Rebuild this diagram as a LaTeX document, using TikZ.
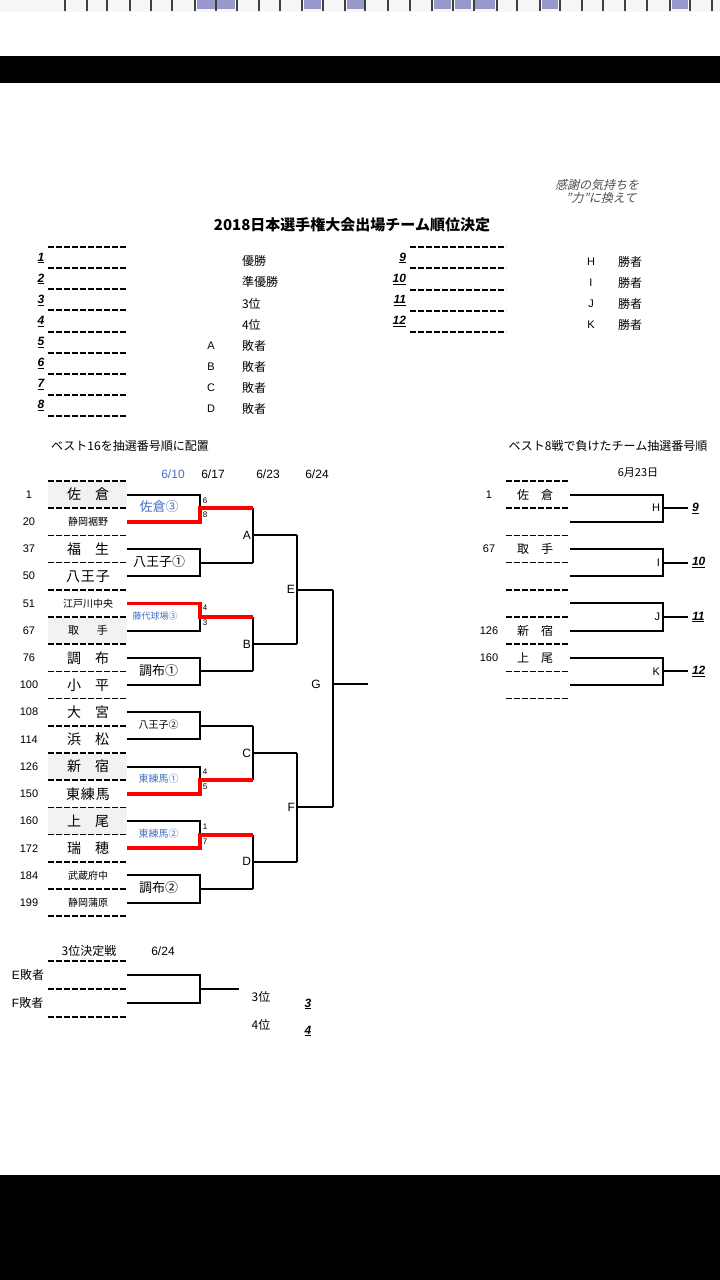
\documentclass[tikz,border=0pt]{standalone}
\usepackage{fontspec}
\setmainfont{Noto Sans CJK JP}
\newfontfamily\ar{Liberation Sans}
\newfontfamily\jpit{Noto Sans CJK JP}[FakeSlant=0.25]
\newcommand\fsz[1]{\fontsize{#1pt}{#1pt}\selectfont}
\newcommand\rk[1]{\underline{\ar\bfseries\itshape #1}}
\definecolor{bl}{RGB}{68,114,196}
\definecolor{cellgray}{RGB}{242,242,242}
\tikzset{
  dl/.style={line width=1.7pt, dash pattern=on 6pt off 2pt},
  br/.style={line width=2pt, line join=miter},
  rl/.style={line width=3.8pt, draw=red, line join=miter},
  tx/.style={inner sep=0pt, outer sep=0pt},
  teamno/.style={tx, font=\ar\fsz{11}},
  pairlbl/.style={tx},
  letter/.style={tx, font=\ar\fsz{12}},
  small/.style={tx, font=\ar\fsz{8}},
}
\begin{document}
\begin{tikzpicture}[x=1pt,y=-1pt]
\useasboundingbox (0,0) rectangle (720,1280);
\fill[white] (0,0) rectangle (720,1280);
% top strip
\fill[gray!7] (0,0) rectangle (720,12);
\foreach \xa/\xb in {197/215,217/235,304/321,347/364,434/451,455/471,475/495,542/558,672/688}
  \fill[blue!35!gray!60] (\xa,0) rectangle (\xb,9);
\foreach \x in {65,87,107,130,151,172,195,216,237,259,280,302,323,345,365,388,410,432,453,474,497,517,540,560,582,603,625,647,670,690,712}
  \fill[black!75] (\x-1,0) rectangle (\x+1,11);
% black bars
\fill[black] (0,56) rectangle (720,83);
\fill[black] (0,1175) rectangle (720,1280);

% title
\node[tx] (title) at (352,225) {\bfseries\fsz{15}2018日本選手権大会出場チーム順位決定};
\node[tx,text=black!70] (motto1) at (597,185) {\jpit\fsz{12}感謝の気持ちを};
\node[tx,text=black!70] (motto2) at (601,198) {\jpit\fsz{12}”力”に換えて};

% ranking list left
\foreach \yy in {247,268,289,310,332,353,374,395,416}
  \draw[dl] (48,\yy) -- (127,\yy);
\foreach \n [count=\i from 0] in {1,...,8} {
  \pgfmathsetmacro\yy{258+21.1*\i}
  \node[tx,font=\fsz{12}] (rk\n) at (41,\yy) {\rk{\n}};
}
\foreach \s/\yy [count=\i] in {優勝/261,準優勝/282,3位/304,4位/325}
  \node[tx,anchor=west,font=\fsz{12}] (pl\i) at (242,\yy) {\s};
\foreach \l/\yy in {A/346,B/367,C/388,D/409} {
  \node[tx,font=\ar\fsz{11}] (ll\l) at (211,\yy) {\l};
  \node[tx,anchor=west,font=\fsz{12}] (lb\l) at (242,\yy) {敗者};
}
% ranking list right
\foreach \yy in {247,268,290,311,332}
  \draw[dl] (410,\yy) -- (506,\yy);
\foreach \n [count=\i from 0] in {9,...,12} {
  \pgfmathsetmacro\yy{258+21.1*\i}
  \node[tx,anchor=east,font=\fsz{12}] (rk\n) at (406,\yy) {\rk{\n}};
}
\foreach \l/\yy in {H/262,I/283,J/304,K/325} {
  \node[tx,font=\ar\fsz{11}] (rl\l) at (591,\yy) {\l};
  \node[tx,font=\fsz{12}] (rw\l) at (630,\yy) {勝者};
}

% headings
\node[tx,font=\fsz{12}] (h16) at (130,446) {ベスト16を抽選番号順に配置};
\node[tx,font=\fsz{12}] (h8) at (608,446) {ベスト8戦で負けたチーム抽選番号順};
\node[tx,text=bl,font=\ar\fsz{12}] (d1) at (173,474) {6/10};
\node[tx,font=\ar\fsz{12}] (d2) at (213,474) {6/17};
\node[tx,font=\ar\fsz{12}] (d3) at (268,474) {6/23};
\node[tx,font=\ar\fsz{12}] (d4) at (317,474) {6/24};

% left bracket grid
\foreach \k in {0,5,10,12} {
  \pgfmathsetmacro\gy{481+27.2*\k}
  \fill[cellgray] (48,\gy) rectangle (127,\gy+27.2);
}
\foreach \k in {0,...,16} {
  \pgfmathsetmacro\gy{481+27.2*\k}
  \draw[dl] (48,\gy) -- (127,\gy);
}
\foreach \k in {0,...,15} {
  \pgfmathsetmacro\ry{494.6+27.2*\k}
  \coordinate (L\k) at (127,\ry);
}
\foreach \p in {0,...,7} {
  \pgfmathsetmacro\my{508.2+54.4*\p}
  \coordinate (J\p) at (200,\my);
  \coordinate (R\p) at (253,\my);
}
\foreach \q in {0,...,3} {
  \pgfmathsetmacro\qy{535.4+108.8*\q}
  \coordinate (Q\q) at (253,\qy);
  \coordinate (S\q) at (297,\qy);
}
\coordinate (E0) at (297,589.8); \coordinate (T0) at (333,589.8);
\coordinate (E1) at (297,807.4); \coordinate (T1) at (333,807.4);
\coordinate (G0) at (333,684); \coordinate (Gend) at (368,684);

% teams
\foreach \k/\no/\nm in {
  0/1/{\fsz{14}佐　倉},
  1/20/{\fsz{10}静岡裾野},
  2/37/{\fsz{14}福　生},
  3/50/{\fsz{14}八\hspace{1pt}王\hspace{1pt}子},
  4/51/{\fsz{10}江戸川中央},
  5/67/{\fsz{11}取\hspace{18pt}手},
  6/76/{\fsz{14}調　布},
  7/100/{\fsz{14}小　平},
  8/108/{\fsz{14}大　宮},
  9/114/{\fsz{14}浜　松},
  10/126/{\fsz{14}新　宿},
  11/150/{\fsz{14}東\hspace{1pt}練\hspace{1pt}馬},
  12/160/{\fsz{14}上　尾},
  13/172/{\fsz{14}瑞　穂},
  14/184/{\fsz{10}武蔵府中},
  15/199/{\fsz{10}静岡蒲原}} {
  \pgfmathsetmacro\ry{494.6+27.2*\k}
  \node[teamno] (no\k) at (29,\ry) {\no};
  \node[tx] (tm\k) at (88,\ry) {\nm};
}

% black bracket lines
\foreach \p in {1,3,4,7} {
  \pgfmathtruncatemacro\a{2*\p}
  \pgfmathtruncatemacro\b{2*\p+1}
  \draw[br] (L\a) -| (J\p) |- (L\b);
  \draw[br] (J\p) -- (R\p);
}
\draw[br] (L0) -| (J0);
\draw[br] (L5) -| (J2);
\draw[br] (L10) -| (J5);
\draw[br] (L12) -| (J6);
\draw[br] (R0) -- (R1) (Q0) -- (S0);
\draw[br] (R2) -- (R3) (Q1) -- (S1);
\draw[br] (R4) -- (R5) (Q2) -- (S2);
\draw[br] (R6) -- (R7) (Q3) -- (S3);
\draw[br] (S0) -- (S1) (E0) -- (T0);
\draw[br] (S2) -- (S3) (E1) -- (T1);
\draw[br] (T0) -- (T1) (G0) -- (Gend);
% red winners
\draw[rl] (L1) -| (J0) -- (R0);
\draw[rl] (L4) -| (J2) -- (R2);
\draw[rl] (L11) -| (J5) -- (R5);
\draw[rl] (L13) -| (J6) -- (R6);

% pair labels
\node[pairlbl,text=bl,font=\fsz{13}] (pw0) at (159,507) {佐倉③};
\node[pairlbl,font=\fsz{13}] (pw1) at (159,562) {八王子①};
\node[pairlbl,text=bl,font=\fsz{9}] (pw2) at (155,616) {藤代球場③};
\node[pairlbl,font=\fsz{13}] (pw3) at (158.5,671) {調布①};
\node[pairlbl,font=\fsz{10}] (pw4) at (158.5,725) {八王子②};
\node[pairlbl,text=bl,font=\fsz{10}] (pw5) at (158.5,779) {東練馬①};
\node[pairlbl,text=bl,font=\fsz{10}] (pw6) at (158.5,834) {東練馬②};
\node[pairlbl,font=\fsz{13}] (pw7) at (158.5,888) {調布②};

% scores
\foreach \s/\yy [count=\i] in {6/501,8/515,4/608,3/623,4/772,5/787,1/827,7/842}
  \node[small] (sc\i) at (205,\yy) {\s};

% round letters
\node[letter,anchor=east] (lA) at (251,535.4) {A};
\node[letter,anchor=east] (lB) at (251,644.2) {B};
\node[letter,anchor=east] (lC) at (251,753) {C};
\node[letter,anchor=east] (lD) at (251,861.8) {D};
\node[letter,anchor=east] (lE) at (295,589.8) {E};
\node[letter,anchor=east] (lF) at (295,807.4) {F};
\node[letter] (lG) at (316,684) {G};

% third place
\node[tx,font=\fsz{12}] (tp) at (89,951) {3位決定戦};
\node[tx,font=\ar\fsz{12}] (tpd) at (163,951) {6/24};
\foreach \yy in {961,989,1017}
  \draw[dl] (48,\yy) -- (127,\yy);
\node[tx,anchor=west,font=\fsz{12}] (el) at (12,975) {{\ar E}敗者};
\node[tx,anchor=west,font=\fsz{12}] (fl) at (12,1003) {{\ar F}敗者};
\coordinate (tpa) at (127,975);
\coordinate (tpb) at (127,1003);
\coordinate (tpj) at (200,989);
\coordinate (tpe) at (239,989);
\draw[br] (tpa) -| (tpj) |- (tpb);
\draw[br] (tpj) -- (tpe);
\node[tx,font=\fsz{12}] (p3) at (261,997) {3位};
\node[tx,font=\fsz{12}] (p4) at (261,1025) {4位};
\node[tx,font=\fsz{12}] (r3) at (308,1004) {\rk{3}};
\node[tx,font=\fsz{12}] (r4) at (308,1031) {\rk{4}};

% right bracket
\node[tx,font=\fsz{11}] (rdate) at (638,473) {6月23日};
\foreach \k in {0,...,8} {
  \pgfmathsetmacro\gy{481+27.2*\k}
  \draw[dl] (506,\gy) -- (569,\gy);
}
\foreach \k/\no/\nm in {0/1/佐　倉,2/67/取　手,5/126/新　宿,6/160/上　尾} {
  \pgfmathsetmacro\ry{494.6+27.2*\k}
  \node[teamno] (rno\k) at (489,\ry) {\no};
  \node[tx,font=\fsz{12}] (rtm\k) at (535,\ry) {\nm};
}
\foreach \q/\l/\n in {0/H/9,1/I/10,2/J/11,3/K/12} {
  \pgfmathsetmacro\ya{494.6+54.4*\q}
  \pgfmathsetmacro\yb{521.8+54.4*\q}
  \pgfmathsetmacro\ym{508.2+54.4*\q}
  \coordinate (RA\q) at (570,\ya);
  \coordinate (RB\q) at (570,\yb);
  \coordinate (RJ\q) at (663,\ym);
  \coordinate (RE\q) at (688,\ym);
  \draw[br] (RA\q) -| (RJ\q) |- (RB\q);
  \draw[br] (RJ\q) -- (RE\q);
  \node[letter,font=\ar\fsz{11},anchor=east] (rL\q) at (660,\ym) {\l};
  \node[tx,font=\fsz{12},anchor=west] (rN\q) at (692,\ym) {\rk{\n}};
}
\end{tikzpicture}
\end{document}
